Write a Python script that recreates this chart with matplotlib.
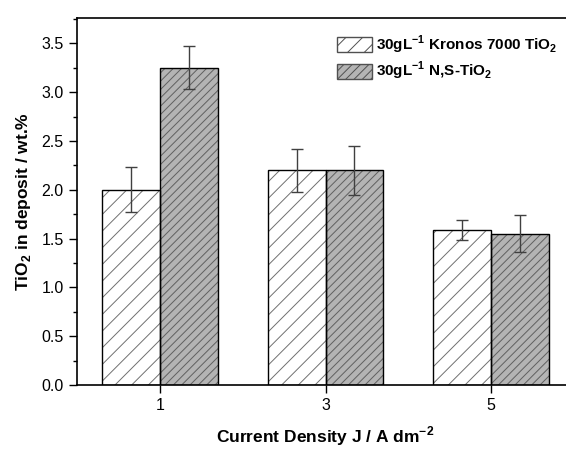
import numpy as np
import matplotlib
matplotlib.use('Agg')
import matplotlib.pyplot as plt
from matplotlib.patches import Patch

plt.rcParams['font.family'] = 'Liberation Sans'
plt.rcParams['mathtext.fontset'] = 'custom'
plt.rcParams['mathtext.rm'] = 'Liberation Sans'
plt.rcParams['mathtext.bf'] = 'Liberation Sans:bold'
plt.rcParams['hatch.linewidth'] = 0.7

# data
current_density = [1, 3, 5]
kronos = [2.00, 2.20, 1.59]
kronos_err = [0.23, 0.22, 0.10]
ns_tio2 = [3.25, 2.20, 1.55]
ns_tio2_err = [0.22, 0.25, 0.19]
labels = [r'30gL$^{\mathbf{-1}}$ Kronos 7000 TiO$_{\mathbf{2}}$',
          r'30gL$^{\mathbf{-1}}$ N,S-TiO$_{\mathbf{2}}$']

fig = plt.figure(figsize=(5.66, 4.49), dpi=100)
# axes runs past the right edge in the original
ax = fig.add_axes([77 / 566, (449 - 385) / 449, 497 / 566, 367 / 449])

x = np.array(current_density, dtype=float)
w = 0.7

# hatch layer (grey lines), then black outlines on top
ax.bar(x - w / 2, kronos, w, color='white', edgecolor='#707070', hatch='//', linewidth=0)
ax.bar(x + w / 2, ns_tio2, w, color='#b4b4b4', edgecolor='#606060', hatch='////', linewidth=0)
ax.bar(x - w / 2, kronos, w, fill=False, edgecolor='black', linewidth=1.0)
ax.bar(x + w / 2, ns_tio2, w, fill=False, edgecolor='black', linewidth=1.0)

ax.errorbar(x - w / 2, kronos, yerr=kronos_err, fmt='none', ecolor='#404040',
            elinewidth=1.0, capsize=4, capthick=1.0)
ax.errorbar(x + w / 2, ns_tio2, yerr=ns_tio2_err, fmt='none', ecolor='#404040',
            elinewidth=1.0, capsize=4, capthick=1.0)

ax.set_xlim(0, 6)
ax.set_ylim(0, 3.76)
ax.set_xticks(current_density)
ax.set_xticklabels([str(c) for c in current_density])
ax.set_yticks(np.arange(0, 3.6, 0.5))
ax.set_yticks(np.arange(0, 3.76, 0.25), minor=True)
ax.tick_params(axis='both', which='major', direction='out', length=6, width=1, labelsize=11.5)
ax.tick_params(axis='y', which='minor', direction='out', length=3, width=1)
ax.tick_params(top=False, right=False)
for s in ax.spines.values():
    s.set_linewidth(1.2)

ax.set_xlabel(r'Current Density J / A dm$^{\mathbf{-2}}$', fontsize=12.5, fontweight='bold', labelpad=8)
ax.set_ylabel(r'TiO$_{\mathbf{2}}$ in deposit / wt.%', fontsize=12.5, fontweight='bold', labelpad=6)

handles = [Patch(facecolor='white', edgecolor='#505050', hatch='//', linewidth=1.0),
           Patch(facecolor='#b4b4b4', edgecolor='#505050', hatch='////', linewidth=1.0)]
ax.legend(handles, labels, loc='upper left', bbox_to_anchor=(0.51, 0.975), frameon=False,
          prop={'weight': 'bold', 'size': 11}, handlelength=2.3, handleheight=1.1,
          handletextpad=0.3, labelspacing=0.3, borderaxespad=0)

fig.savefig('out.png', dpi=100)
